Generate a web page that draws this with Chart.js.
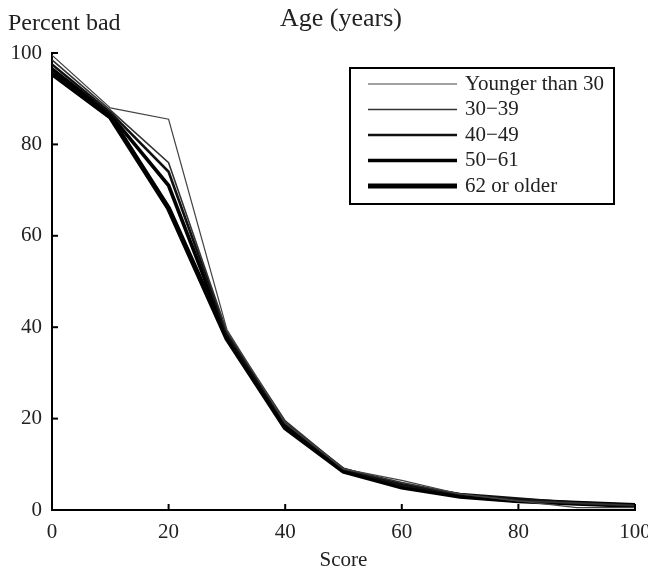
<!DOCTYPE html>
<html>
<head>
<meta charset="utf-8">
<script src="https://cdn.jsdelivr.net/npm/chart.js@4/dist/chart.umd.min.js"></script>
<style>
  html, body { margin: 0; padding: 0; background: #fff; }
  #wrap { width: 648px; height: 573px; position: relative; }
</style>
</head>
<body>
<div id="wrap"><canvas id="chart"></canvas></div>
<script>
// Datos
const scores = [0, 10, 20, 30, 40, 50, 60, 70, 80, 90, 100];
const ageLabels = ["Younger than 30", "30\u221239", "40\u221249", "50\u221261", "62 or older"];
const younger30 = [99.5, 88, 85.5, 39.5, 19, 9, 6.5, 3.5, 2, 0.5, 0.5];
const age30to39 = [98.5, 87.5, 76, 39, 19.5, 9, 6, 3.5, 2, 1.5, 1];
const age40to49 = [97.5, 87, 74, 38.5, 19, 9, 5.5, 3.5, 2.5, 1.5, 1];
const age50to61 = [96.5, 86.5, 71, 38, 18.5, 8.5, 5.5, 3, 2, 1.5, 1];
const age62plus = [95.5, 86, 66, 37.5, 18, 8.5, 5, 3, 2, 1.5, 1];
const yTicks = [0, 20, 40, 60, 80, 100];

const SERIES = [younger30, age30to39, age40to49, age50to61, age62plus];
const WIDTHS = [1.2, 1.6, 2.6, 3.6, 5];
const COLORS = ["#444", "#333", "#111", "#000", "#000"];
const FONT = "'Liberation Serif', 'DejaVu Serif', serif";

const toPts = (arr) => arr.map((v, i) => ({ x: scores[i], y: v }));

// Marcas de eje hacia adentro, títulos y leyenda con recuadro
const decor = {
  id: "decor",
  afterDraw(chart) {
    const { ctx, chartArea: a, scales } = chart;
    ctx.save();
    ctx.strokeStyle = "#000";
    ctx.lineWidth = 2;
    scores.filter((s) => s % 20 === 0).forEach((s) => {
      const x = scales.x.getPixelForValue(s);
      ctx.beginPath(); ctx.moveTo(x, a.bottom); ctx.lineTo(x, a.bottom - 6); ctx.stroke();
    });
    yTicks.forEach((t) => {
      const y = scales.y.getPixelForValue(t);
      ctx.beginPath(); ctx.moveTo(a.left, y); ctx.lineTo(a.left + 6, y); ctx.stroke();
    });

    ctx.fillStyle = "#222";
    ctx.font = "24px " + FONT;
    ctx.textBaseline = "middle";
    ctx.textAlign = "left";
    ctx.fillText("Percent bad", 8, 24);
    ctx.textAlign = "center";
    ctx.font = "26px " + FONT;
    ctx.fillText("Age (years)", 341, 19);

    // leyenda
    const bx = 350, by = 68, bw = 264, bh = 136;
    ctx.lineWidth = 2;
    ctx.strokeStyle = "#000";
    ctx.strokeRect(bx, by, bw, bh);
    ctx.font = "21px " + FONT;
    ctx.textAlign = "left";
    chart.data.datasets.forEach((ds, i) => {
      const y = by + 16 + i * 25.5;
      ctx.strokeStyle = ds.borderColor;
      ctx.lineWidth = ds.borderWidth;
      ctx.beginPath(); ctx.moveTo(368, y); ctx.lineTo(457, y); ctx.stroke();
      ctx.fillStyle = "#222";
      ctx.fillText(ds.label, 465, y);
    });
    ctx.restore();
  }
};

new Chart(document.getElementById("chart"), {
  type: "line",
  data: {
    datasets: SERIES.map((arr, i) => ({
      label: ageLabels[i],
      data: toPts(arr),
      borderColor: COLORS[i],
      borderWidth: WIDTHS[i],
      pointRadius: 0,
      tension: 0,
      fill: false
    }))
  },
  options: {
    responsive: true,
    maintainAspectRatio: false,
    animation: false,
    layout: { padding: { top: 53, left: 0, right: 0, bottom: 0 } },
    plugins: { legend: { display: false }, tooltip: { enabled: false } },
    scales: {
      x: {
        type: "linear",
        min: 0, max: 100,
        grid: { display: false, drawTicks: false },
        border: { display: true, color: "#000", width: 2 },
        ticks: { stepSize: 20, color: "#222", padding: 10, font: { family: FONT, size: 21 } },
        title: { display: true, text: "Score", color: "#222", padding: { top: 0, bottom: 0 }, font: { family: FONT, size: 21 } },
        afterFit(s) { s.height = 63; s.paddingRight = 13; s.paddingLeft = 0; }
      },
      y: {
        min: 0, max: 100,
        grid: { display: false, drawTicks: false },
        border: { display: true, color: "#000", width: 2 },
        ticks: { stepSize: 20, color: "#222", padding: 10, font: { family: FONT, size: 21 } },
        afterFit(s) { s.width = 52; }
      }
    }
  },
  plugins: [decor]
});
</script>
</body>
</html>
